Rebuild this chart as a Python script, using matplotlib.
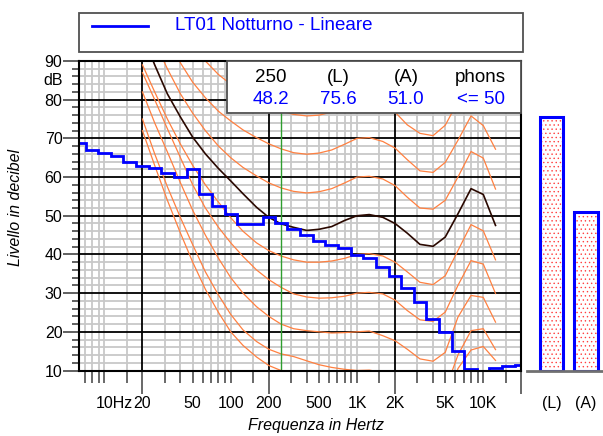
import numpy as np
import matplotlib.pyplot as plt
from matplotlib.patches import Rectangle
from matplotlib.lines import Line2D
from matplotlib.ticker import NullFormatter

plt.rcParams['font.family'] = ['Liberation Sans', 'DejaVu Sans']
plt.rcParams['hatch.linewidth'] = 0.5

# Spettro misurato, bande di terzo d'ottava (dB lineari)
bande = [6.3, 8, 10, 12.5, 16, 20, 25, 31.5, 40, 50, 63, 80, 100, 125, 160,
         200, 250, 315, 400, 500, 630, 800, 1000, 1250, 1600, 2000, 2500,
         3150, 4000, 5000, 6300, 8000, 10000, 12500, 16000, 20000]
livelli = [68.8, 67.0, 66.3, 65.5, 63.9, 62.9, 62.3, 61.0, 59.9, 62.0, 55.5,
           52.6, 50.4, 47.8, 47.9, 49.8, 48.2, 46.7, 44.9, 43.5, 42.4, 41.6,
           39.9, 39.1, 36.8, 34.3, 31.3, 27.6, 23.3, 19.9, 15.0, 10.4, 10.0,
           10.6, 11.1, 11.5]

# Livelli globali
etichette_barre = ['(L)', '(A)']
valori_barre = [75.6, 51.0]
soglia_phon = '<= 50'

# Curve isofoniche
f_iso = [20, 25, 31.5, 40, 50, 63, 80, 100, 125, 160, 200, 250, 315, 400, 500,
         630, 800, 1000, 1250, 1600, 2000, 2500, 3150, 4000, 5000, 6300, 8000,
         10000, 12500]
soglia = [72, 63, 54, 45.5, 38, 31, 25, 20, 16.5, 13.5, 11.3, 10, 8.5, 7, 6,
          5, 4.5, 4.2, 4, 3, 1, -1, -3, -3, -1, 10.5, 15.3, 16.2, 12.6]
phon10 = [75, 66, 57.5, 49.5, 42.5, 35.5, 29.5, 24.5, 20.5, 17.5, 15.5, 14.3,
          13.6, 12.5, 11.5, 10.8, 10.3, 10, 10.1, 9.5, 8, 5.5, 3, 2.5, 5, 14,
          20.3, 20.8, 15.4]
phon20 = [82, 74, 66.5, 58.5, 51.4, 45, 39, 34, 30, 26.5, 24, 22, 20.8, 20.3,
          20, 19.7, 19.8, 20, 20.2, 19, 17.7, 15.5, 13, 12.4, 14.7, 23.8, 29.4,
          28.9, 22.5]
phon30 = [87, 80, 72.5, 65, 58, 52, 47, 43, 39.5, 36, 33.5, 31.5, 29.8, 29,
          28.7, 28.8, 29.2, 30, 30.2, 29.8, 28.2, 25.5, 23.1, 22.7, 25.1, 32,
          38.4, 37.5, 29.9]
phon40 = [89, 82, 75, 68.5, 63, 58, 53.5, 49.5, 46, 43, 41, 39.6, 38.6, 38, 38,
          38.3, 39, 40, 40.2, 39.6, 38, 35.5, 32.8, 32.2, 34.5, 41, 47.7, 46.1,
          38.6]
phon50 = [97, 89, 81.5, 75.5, 70.3, 66, 62.2, 59, 55.7, 52.2, 49.6, 47.9, 47,
          46.2, 46.5, 47.2, 48.8, 50, 50.3, 49.6, 48, 45.5, 42.6, 42.1, 44.5,
          50.5, 57, 55.5, 47.5]
phon60 = [103, 95, 88, 81.5, 76.5, 72, 68, 65, 62.5, 60.3, 58.5, 57.2, 56.3,
          55.9, 56.2, 57, 58.5, 60, 60.2, 59.5, 57.8, 54.8, 52, 51.7, 54, 60,
          66.6, 64.9, 56.9]
phon70 = [112, 105, 97, 89.5, 84.5, 80.5, 77, 74.5, 72.2, 70.2, 68.6, 67.3,
          66.3, 65.9, 66.2, 67, 68.5, 70, 70.2, 69.2, 67.5, 64.5, 61.6, 61.2,
          63.8, 69.5, 75.8, 73.3, 67.2]
phon80 = [125, 118, 111, 104, 97, 90, 86.5, 84, 82, 80, 78.3, 77, 76.2, 75.8,
          76, 76.8, 78.3, 80, 80.3, 79.5, 76.8, 73.5, 71.3, 70.7, 73.4, 79.5,
          85.5, 83, 77.5]
curve_arancio = [soglia, phon10, phon20, phon30, phon40, phon60, phon70, phon80]

etichette_x = ['10Hz', '20', '50', '100', '200', '500', '1K', '2K', '5K', '10K']
pos_x = [11.9, 20, 50, 100, 200, 500, 1000, 2000, 5000, 10000]

W, H = 603, 436
fig = plt.figure(figsize=(W / 100, H / 100), dpi=100)


def fx(px):
    return px / W


def fy(py):
    return 1 - py / H


# Grafico principale
ax = fig.add_axes([fx(79.1), fy(370.5), (521.3 - 79.1) / W, (370.5 - 61) / H])
ax.set_xscale('log')
ax.set_xlim(6.3, 20000)
ax.set_ylim(10, 90)

grigio = '#c8c8c8'
xmin = [m * d for d in [1, 10, 100, 1000, 10000]
        for m in [1, 1.5, 3, 4, 5, 6, 7, 8, 9] if 6.3 < m * d < 20000]
xmaj = [20, 200, 2000]
for x in xmin:
    ax.axvline(x, color=grigio, lw=1.3, zorder=1)
for y in range(12, 90, 2):
    if y % 10:
        ax.axhline(y, color=grigio, lw=1.3, zorder=1)
for y in range(20, 90, 10):
    ax.axhline(y, color='black', lw=1.3, zorder=2)
for x in xmaj:
    ax.axvline(x, color='black', lw=1.3, zorder=2)

for c in curve_arancio:
    ax.plot(f_iso, c, color='#ff8040', lw=0.9, zorder=3)
ax.plot(f_iso, phon50, color='#2a0800', lw=1.2, zorder=4)
ax.axvline(250, color='#2e9e2e', lw=1.0, zorder=3)

# spettro a gradini
b = np.array(bande)
bordi = np.concatenate([[b[0] / 1.12], np.sqrt(b[:-1] * b[1:]), [b[-1] * 1.12]])
ax.stairs(livelli, bordi, baseline=None, color='blue', lw=2.0, zorder=5)

# assi e tacche
ax.set_xticks(xmaj + [20000])
ax.set_xticks(xmin, minor=True)
ax.xaxis.set_minor_formatter(NullFormatter())
ax.tick_params(axis='x', which='major', length=16.5, width=1.1,
               color='#404040', labelbottom=False)
ax.tick_params(axis='x', which='minor', length=8.6, width=1.1,
               color='#404040', labelbottom=False)
ax.set_yticks(range(10, 91, 10))
ax.set_yticks(range(12, 90, 2), minor=True)
ax.tick_params(axis='y', which='major', length=11.5, width=1.4,
               color='#606060', labelsize=11.5, pad=0.5)
ax.tick_params(axis='y', which='minor', length=5, width=1.4, color='#606060')
for s in ax.spines.values():
    s.set_color('black')
    s.set_linewidth(1.5)
    s.set_zorder(6)
ax.text(-0.036, (85 - 10) / 80, 'dB', transform=ax.transAxes, ha='right',
        va='center', fontsize=11.5)

for p, t in zip(pos_x, etichette_x):
    ax.text(p, -0.106, t, transform=ax.get_xaxis_transform(), ha='center',
            va='center', fontsize=11.5)

# riquadro dei valori
ax.add_patch(Rectangle((0.335, 0.831), 0.665, 0.169, transform=ax.transAxes,
                       facecolor='white', edgecolor='#505050', lw=1.3,
                       zorder=7, clip_on=False))
intest = ['250', etichette_barre[0], etichette_barre[1], 'phons']
valori = ['%.1f' % livelli[bande.index(250)], '%.1f' % valori_barre[0],
          '%.1f' % valori_barre[1], soglia_phon]
colonne = [0.433, 0.586, 0.739, 0.908]
for cx, t1, t2 in zip(colonne, intest, valori):
    ax.text(cx, 0.947, t1, transform=ax.transAxes, ha='center', va='center',
            fontsize=13.5, color='black', zorder=8)
    ax.text(cx, 0.877, t2, transform=ax.transAxes, ha='center', va='center',
            fontsize=13.5, color='blue', zorder=8)

# barre dei livelli globali
ax2 = fig.add_axes([fx(527), fy(370.5), (603 - 527) / W, (370.5 - 61) / H])
ax2.set_ylim(10, 90)
ax2.set_xlim(-0.722, 1.5)
xb = np.arange(len(valori_barre))
alt = np.array(valori_barre) - 10
ax2.bar(xb, alt, bottom=10, width=0.687, color='white', edgecolor='#ff4040',
        hatch='....', lw=0)
ax2.bar(xb, alt, bottom=10, width=0.687, fill=False, edgecolor='blue', lw=2.2)
for s in ['top', 'left', 'right']:
    ax2.spines[s].set_visible(False)
ax2.spines['bottom'].set_color('#707070')
ax2.spines['bottom'].set_linewidth(2)
ax2.set_xticks([])
ax2.set_yticks([])
for x, t in zip(xb, etichette_barre):
    ax2.text(x, -0.106, t, transform=ax2.get_xaxis_transform(), ha='center',
             va='center', fontsize=11.5)

# legenda
fig.add_artist(Rectangle((fx(79), fy(52)), (523 - 79) / W, (52 - 12.7) / H,
                         transform=fig.transFigure, fill=False,
                         edgecolor='#505050', lw=1.3))
fig.add_artist(Line2D([fx(91.7), fx(148.3)], [fy(25.7), fy(25.7)],
                      transform=fig.transFigure, color='blue', lw=2.0))
fig.text(fx(175), fy(25.7), 'LT01 Notturno - Lineare', color='blue',
         fontsize=13.5, va='center', ha='left')

fig.text(fx(316), fy(425), 'Frequenza in Hertz', style='italic',
         fontsize=11.5, ha='center', va='center')
fig.text(fx(16), fy(207), 'Livello in decibel', style='italic',
         fontsize=11.5, ha='center', va='center', rotation=90)

fig.savefig('out.png', dpi=100)
